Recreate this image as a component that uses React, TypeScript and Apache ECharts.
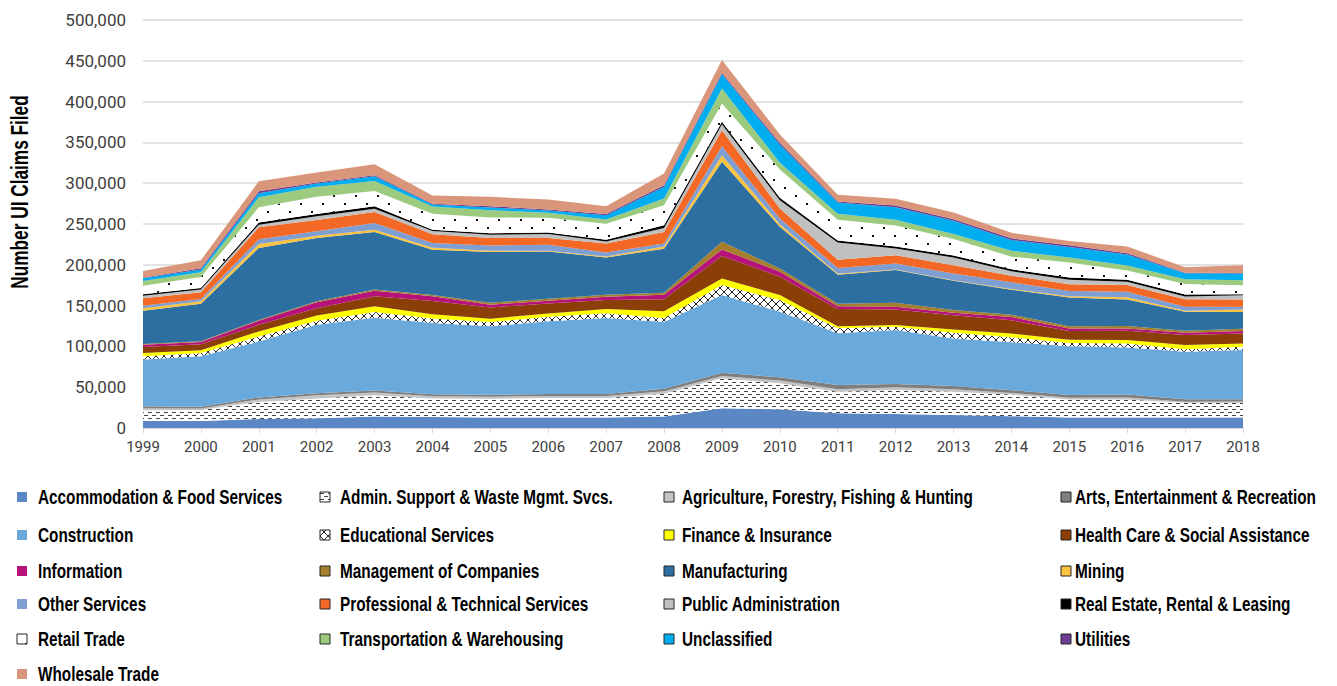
import React, { useEffect, useRef } from 'react';
import * as echarts from 'echarts';

const years = ['1999','2000','2001','2002','2003','2004','2005','2006','2007','2008','2009','2010','2011','2012','2013','2014','2015','2016','2017','2018'];
const yTicks = { min: 0, max: 500000, interval: 50000 };

const accommodation = [9000, 8500, 11000, 12000, 14000, 13500, 13000, 13000, 13000, 14000, 24100, 22900, 18000, 17200, 15900, 14500, 13000, 13000, 13000, 13000];
const adminSupport = [12700, 13500, 21000, 24000, 26000, 22500, 22900, 23700, 23700, 28000, 36800, 31900, 26500, 29400, 28600, 26500, 22000, 22000, 18000, 18000];
const agriculture = [2500, 2000, 3000, 4000, 3500, 2900, 2500, 2500, 2500, 2900, 2900, 3300, 2900, 3300, 2900, 2000, 2000, 2500, 1200, 1600];
const arts = [2500, 2000, 2500, 2500, 2500, 2500, 2500, 2500, 2500, 3300, 4000, 4000, 5300, 4000, 4000, 3300, 3300, 3700, 2900, 2500];
const construction = [57200, 62000, 68600, 84000, 89000, 87400, 83700, 89000, 93100, 81700, 95100, 80400, 63300, 66200, 58400, 58800, 60000, 57600, 58400, 60400];
const educational = [4000, 4000, 6100, 4900, 7300, 5300, 5300, 5700, 5700, 4900, 12200, 14300, 6100, 4000, 6900, 6100, 4000, 4900, 2900, 4000];
const finance = [4000, 3300, 6100, 6500, 6900, 5300, 4000, 4000, 5300, 8200, 8200, 6100, 2500, 2000, 4000, 4500, 4000, 4000, 5300, 4000];
const healthCare = [7300, 7300, 8200, 9000, 12200, 16300, 13900, 12200, 11000, 14700, 27400, 22500, 21200, 19200, 17600, 16300, 10600, 11400, 12200, 12200];
const information = [2900, 2900, 4900, 7300, 6900, 5700, 3300, 3300, 4000, 5700, 8200, 6100, 3300, 3300, 2900, 4000, 2900, 2900, 2900, 3300];
const management = [800, 800, 1000, 1000, 1500, 1600, 2500, 2500, 2500, 2500, 9400, 4000, 3300, 4900, 3300, 2900, 2900, 2900, 2500, 2500];
const manufacturing = [40800, 46100, 88200, 77600, 70400, 55500, 62100, 58000, 45700, 53900, 97900, 51000, 35500, 40000, 35900, 30600, 35100, 32700, 23300, 20800];
const mining = [2900, 2900, 4900, 2900, 2900, 2500, 1600, 800, 1200, 2500, 8200, 3300, 1200, 800, 800, 800, 1600, 2500, 1200, 2900];
const otherServices = [3300, 2900, 5700, 5300, 8200, 5700, 6500, 7300, 4900, 3700, 11000, 6900, 6900, 7300, 8200, 8200, 6500, 6900, 4900, 3300];
const professional = [9000, 8200, 14700, 13900, 13500, 10600, 9000, 8200, 11000, 14300, 19600, 12200, 10200, 10200, 10200, 8200, 8200, 8200, 9000, 9000];
const publicAdmin = [3300, 3300, 3300, 4500, 4000, 4000, 4000, 4900, 2500, 4900, 7300, 10200, 21200, 8200, 9400, 5300, 5700, 4000, 3300, 5300];
const realEstate = [1600, 2000, 2500, 2900, 2900, 1600, 2000, 2000, 2000, 3300, 3000, 3000, 2500, 2500, 2500, 2500, 2500, 2500, 2500, 1200];
const retail = [10600, 13500, 18800, 21200, 18800, 19600, 19200, 18000, 19600, 24500, 22500, 34700, 25300, 25700, 20000, 15500, 18400, 11400, 13100, 11000];
const transportation = [5700, 5700, 12200, 12200, 12200, 9000, 9000, 6100, 5300, 8200, 18400, 8200, 7300, 6900, 6100, 7300, 6100, 6100, 5700, 6100];
const unclassified = [3300, 3300, 4900, 4000, 5700, 2500, 3300, 2900, 5300, 14300, 17600, 22500, 13900, 15500, 16300, 13100, 13100, 13500, 7300, 8200];
const utilities = [800, 1600, 2500, 1200, 1200, 800, 1600, 1200, 1600, 2000, 1600, 2000, 1200, 2000, 2000, 2000, 2000, 1600, 800, 800];
const wholesale = [8200, 9800, 12200, 12200, 13500, 10200, 11400, 12200, 9400, 14300, 15500, 10200, 8200, 8200, 8200, 6900, 5300, 8200, 6500, 9400];

const BOLD_FONT = '"Liberation Sans", Arial, sans-serif';
const TICK_FONT = 'Roboto, "Liberation Sans", sans-serif';

function makePattern(kind: string) {
  const c = document.createElement('canvas');
  const ctx = c.getContext('2d')!;
  if (kind === 'dash') {
    c.width = 8; c.height = 6;
    ctx.fillStyle = '#fff'; ctx.fillRect(0, 0, 8, 6);
    ctx.fillStyle = '#444';
    ctx.fillRect(0, 1, 4, 1);
    ctx.fillRect(4, 4, 4, 1);
  } else if (kind === 'cross') {
    c.width = 8; c.height = 8;
    ctx.fillStyle = '#fff'; ctx.fillRect(0, 0, 8, 8);
    ctx.strokeStyle = '#222'; ctx.lineWidth = 1;
    ctx.beginPath();
    ctx.moveTo(0, 0); ctx.lineTo(8, 8);
    ctx.moveTo(8, 0); ctx.lineTo(0, 8);
    ctx.stroke();
  } else {
    c.width = 22; c.height = 16;
    ctx.fillStyle = '#fff'; ctx.fillRect(0, 0, 22, 16);
    ctx.fillStyle = '#111';
    ctx.fillRect(3, 3, 2, 2);
    ctx.fillRect(14, 11, 2, 2);
  }
  return { image: c, repeat: 'repeat', imageWidth: c.width, imageHeight: c.height } as any;
}

export default function App() {
  const ref = useRef<HTMLDivElement>(null);
  useEffect(() => {
    const chart = echarts.init(ref.current!, null, { renderer: 'svg' });
    const dash = makePattern('dash');
    const cross = makePattern('cross');
    const dots = makePattern('dots');
    const defs: { name: string; data: number[]; color: string; fill?: any }[] = [
      { name: 'Accommodation & Food Services', data: accommodation, color: '#5b87c4' },
      { name: 'Admin. Support & Waste Mgmt. Svcs.', data: adminSupport, color: '#ffffff', fill: dash },
      { name: 'Agriculture, Forestry, Fishing & Hunting', data: agriculture, color: '#c4c4c4' },
      { name: 'Arts, Entertainment & Recreation', data: arts, color: '#7f7f7f' },
      { name: 'Construction', data: construction, color: '#6aa9dc' },
      { name: 'Educational Services', data: educational, color: '#ffffff', fill: cross },
      { name: 'Finance & Insurance', data: finance, color: '#ffff00' },
      { name: 'Health Care & Social Assistance', data: healthCare, color: '#8b3f06' },
      { name: 'Information', data: information, color: '#b5127a' },
      { name: 'Management of Companies', data: management, color: '#a57f2c' },
      { name: 'Manufacturing', data: manufacturing, color: '#2e6fa2' },
      { name: 'Mining', data: mining, color: '#fbc33e' },
      { name: 'Other Services', data: otherServices, color: '#7f9fd3' },
      { name: 'Professional & Technical Services', data: professional, color: '#f26824' },
      { name: 'Public Administration', data: publicAdmin, color: '#c0c0c0' },
      { name: 'Real Estate, Rental & Leasing', data: realEstate, color: '#000000' },
      { name: 'Retail Trade', data: retail, color: '#ffffff', fill: dots },
      { name: 'Transportation & Warehousing', data: transportation, color: '#9ccb80' },
      { name: 'Unclassified', data: unclassified, color: '#00adef' },
      { name: 'Utilities', data: utilities, color: '#6c3d91' },
      { name: 'Wholesale Trade', data: wholesale, color: '#d9967a' },
    ];
    const iconX = [17, 320, 664, 1061];
    const textX = [38, 340, 682, 1075];
    const rowY = [497, 535, 571, 604, 639, 674];
    const legendGraphics: any[] = [];
    defs.forEach((s, i) => {
      const row = Math.floor(i / 4);
      const col = i % 4;
      const bordered = col !== 0 || s.color === '#ffffff';
      legendGraphics.push({
        type: 'rect',
        shape: { x: iconX[col], y: rowY[row] - 5, width: 10, height: 10 },
        style: {
          fill: s.fill || s.color,
          stroke: bordered ? '#262626' : null,
          lineWidth: bordered ? 1 : 0,
        },
        silent: true,
      });
      legendGraphics.push({
        type: 'text',
        x: textX[col],
        y: rowY[row],
        scaleX: 0.73,
        silent: true,
        style: {
          text: s.name,
          fontFamily: BOLD_FONT,
          fontWeight: 'bold',
          fontSize: 21,
          fill: '#000',
          textAlign: 'left',
          textVerticalAlign: 'middle',
        },
      });
    });
    const option: any = {
      animation: false,
      backgroundColor: '#fff',
      grid: { left: 143, right: 94, top: 20, bottom: 258, containLabel: false },
      xAxis: {
        type: 'category',
        data: years,
        boundaryGap: false,
        axisLine: { lineStyle: { color: '#d9d9d9', width: 1 } },
        axisTick: { show: true, length: 5, lineStyle: { color: '#d9d9d9' } },
        axisLabel: { fontFamily: TICK_FONT, fontSize: 15, color: '#404040', margin: 11 },
      },
      yAxis: {
        type: 'value',
        min: yTicks.min,
        max: yTicks.max,
        interval: yTicks.interval,
        axisLine: { show: false },
        axisTick: { show: false },
        splitLine: { lineStyle: { color: '#d9d9d9', width: 1.5 } },
        axisLabel: {
          fontFamily: TICK_FONT,
          fontSize: 17,
          color: '#404040',
          margin: 17,
          formatter: (v: number) => v.toLocaleString('en-US'),
        },
      },
      graphic: [
        {
          type: 'text',
          x: 20,
          y: 192,
          rotation: Math.PI / 2,
          scaleX: 0.75,
          silent: true,
          style: {
            text: 'Number UI Claims Filed',
            fontFamily: BOLD_FONT,
            fontWeight: 'bold',
            fontSize: 23,
            fill: '#000',
            textAlign: 'center',
            textVerticalAlign: 'middle',
          },
        },
        ...legendGraphics,
      ],
      series: defs.map((s) => ({
        name: s.name,
        type: 'line',
        stack: 'total',
        data: s.data,
        color: s.color,
        symbol: 'none',
        showSymbol: false,
        lineStyle: { width: 0 },
        areaStyle: { color: s.fill || s.color, opacity: 1 },
        emphasis: { disabled: true },
      })),
    };
    chart.setOption(option);
    return () => chart.dispose();
  }, []);
  return <div ref={ref} style={{ position: 'absolute', left: 0, top: 0, width: 1337, height: 686 }} />;
}
